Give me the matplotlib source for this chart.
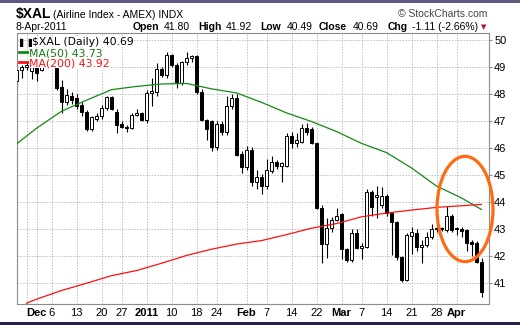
import matplotlib
matplotlib.use("Agg")
import matplotlib.pyplot as plt
from matplotlib.patches import Rectangle, Ellipse
import numpy as np

plt.rcParams["font.family"] = ["Liberation Sans", "DejaVu Sans"]

# trading-day index, 0 = 1-Dec-2010, 89 = 8-Apr-2011
day_idx = np.arange(-4, 90)
opens = [48.50, 48.90, 49.00, 48.85, 49.05, 48.90, 49.30, 49.35, 49.02, 48.28,
         47.73, 47.95, 47.85, 47.60, 47.35, 46.70, 47.10, 47.20, 47.50, 47.90,
         47.35, 46.90, 46.80, 46.75, 47.25, 47.30, 47.05, 48.05, 48.10, 48.95,
         48.72, 49.45, 49.10, 48.40, 49.20, 49.35, 49.40, 48.10, 47.05, 47.00,
         46.05, 46.90, 46.60, 47.55, 47.85, 45.80, 45.30, 45.95, 44.75, 44.95,
         44.60, 45.15, 45.50, 45.35, 45.35, 46.45, 46.20, 46.25, 46.75, 46.70,
         46.20, 43.80, 42.45, 43.05, 43.35, 43.55, 42.27, 41.85, 42.86, 42.30,
         42.35, 44.38, 44.20, 43.90, 44.23, 43.60, 43.27, 41.97, 41.12, 42.75,
         42.85, 42.34, 42.42, 42.72, 43.00, 43.00, 42.98, 43.50, 43.05, 43.00,
         42.98, 42.52, 42.50, 41.80]
highs = [48.98, 49.10, 49.20, 49.25, 49.20, 49.40, 49.50, 49.50, 49.20, 48.53,
         48.20, 48.10, 48.00, 47.70, 47.40, 47.20, 47.30, 47.60, 47.95, 47.95,
         47.45, 47.00, 46.85, 47.30, 47.45, 47.35, 48.15, 48.60, 49.15, 49.00,
         49.55, 49.50, 49.15, 49.25, 49.55, 49.45, 49.45, 48.20, 47.10, 47.05,
         47.00, 47.00, 47.95, 48.00, 48.00, 45.90, 46.10, 46.05, 45.20, 45.05,
         45.60, 45.70, 45.55, 45.50, 46.55, 46.60, 46.55, 46.90, 46.95, 46.80,
         46.25, 43.90, 43.40, 43.45, 43.80, 43.60, 42.30, 43.00, 43.00, 42.50,
         44.50, 44.45, 44.60, 44.55, 44.30, 43.65, 43.30, 42.00, 42.85, 43.10,
         43.00, 42.60, 42.90, 43.20, 43.35, 43.10, 43.85, 43.55, 43.10, 43.10,
         43.00, 42.60, 42.55, 41.92]
lows = [48.27, 48.60, 48.90, 48.55, 48.50, 48.85, 49.20, 49.00, 48.15, 47.30,
        47.60, 47.65, 47.45, 47.20, 46.65, 46.65, 47.00, 47.10, 47.40, 47.40,
        46.55, 46.75, 46.60, 46.70, 47.20, 47.00, 46.95, 47.55, 47.95, 48.65,
        48.60, 49.00, 48.25, 48.35, 49.10, 49.20, 48.00, 47.00, 46.30, 45.90,
        45.95, 46.50, 46.50, 47.45, 45.70, 45.10, 45.20, 44.60, 44.50, 44.30,
        44.50, 45.10, 45.25, 44.75, 45.30, 46.00, 46.05, 46.20, 46.50, 46.15,
        43.75, 41.75, 41.95, 42.90, 43.30, 41.90, 41.80, 41.80, 42.25, 41.90,
        42.30, 43.50, 43.40, 43.80, 43.50, 42.05, 41.85, 41.05, 41.08, 42.10,
        42.20, 41.75, 42.35, 42.65, 42.90, 42.95, 42.90, 42.90, 42.80, 42.70,
        42.20, 42.00, 41.75, 40.49]
closes = [48.90, 49.00, 49.10, 49.15, 48.80, 49.35, 49.40, 49.10, 48.22, 47.73,
          47.97, 47.79, 47.55, 47.35, 46.70, 47.15, 47.20, 47.50, 47.90, 47.45,
          46.85, 46.80, 46.75, 47.25, 47.30, 47.05, 48.05, 48.12, 48.95, 48.72,
          49.45, 49.10, 48.40, 49.20, 49.35, 49.40, 48.10, 47.05, 46.70, 46.05,
          46.90, 46.60, 47.55, 47.85, 45.75, 45.30, 45.95, 44.75, 44.95, 44.60,
          45.20, 45.50, 45.35, 45.45, 46.45, 46.20, 46.30, 46.75, 46.60, 46.20,
          43.80, 42.45, 43.05, 43.35, 43.50, 42.27, 41.85, 42.86, 42.30, 42.38,
          44.38, 43.83, 44.25, 44.23, 43.60, 43.27, 41.97, 41.12, 42.79, 42.90,
          42.34, 42.42, 42.72, 43.01, 43.05, 43.02, 43.50, 42.98, 43.00, 42.95,
          42.48, 42.47, 41.80, 40.69]

ma50_idx = [-4, 0, 5, 10, 15, 20, 25, 30, 35, 40, 45, 50, 55, 60, 65, 70, 75, 80, 85, 89]
ma50 = [46.16, 46.74, 47.37, 47.78, 48.17, 48.29, 48.38, 48.40, 48.20, 48.05,
        47.70, 47.31, 46.99, 46.62, 46.18, 45.84, 45.27, 44.60, 44.16, 43.73]
ma200_idx = [-2, 0, 5, 10, 15, 20, 25, 30, 35, 40, 45, 50, 55, 60, 65, 70, 75, 80, 85, 89]
ma200 = [40.26, 40.41, 40.73, 41.00, 41.28, 41.47, 41.74, 42.03, 42.26, 42.45,
         42.58, 42.80, 43.04, 43.21, 43.46, 43.60, 43.71, 43.81, 43.87, 43.92]

grid_idx = [-2, 0, 3, 8, 13, 17, 22, 27, 32, 36, 42, 46, 51, 56, 61, 65, 70, 75, 80, 84]
grid_labels = ["", "Dec", "6", "13", "20", "27", "2011", "10", "18", "24",
               "Feb", "7", "14", "22", "Mar", "7", "14", "21", "28", "Apr"]
bold_labels = {"Dec", "2011", "Feb", "Mar", "Apr"}
price_ticks = [41, 42, 43, 44, 45, 46, 47, 48, 49, 50]

W, H = 520, 325
fig = plt.figure(figsize=(W / 100, H / 100), dpi=100)
fig.patch.set_facecolor("white")


def px(x, y):
    return x / W, 1 - y / H


ax = fig.add_axes([16.7 / W, 1 - 304.3 / H, (489.3 - 16.7) / W, (304.3 - 32.7) / H])
ax.set_xlim(-3.96, 90.56)
ax.set_ylim(40.22, 50.28)

# grid
for g in grid_idx:
    ax.axvline(g, color="#bdbdbd", lw=0.7, ls=(0, (1.5, 1.5)), zorder=0)
for p in price_ticks:
    ax.axhline(p, color="#bdbdbd", lw=0.7, ls=(0, (1.5, 1.5)), zorder=0)

# candles
o = np.array(opens); c = np.array(closes)
ax.vlines(day_idx, lows, highs, color="black", lw=0.8, zorder=2)
up = c >= o
body = np.maximum(np.abs(c - o), 0.03)
ax.bar(day_idx, body, bottom=np.minimum(o, c), width=0.72,
       color=np.where(up, "white", "black"), edgecolor="black", linewidth=0.7, zorder=3)

# moving averages
ax.plot(ma50_idx, ma50, color="#138a13", lw=0.9, zorder=4)
ax.plot(ma200_idx, ma200, color="#ff1010", lw=0.9, zorder=4)

# orange annotation ring
ring = Ellipse((85.7, 43.75), width=11.2, height=3.9, fill=False,
               edgecolor="#ff6a13", lw=2.3, zorder=5, clip_on=False)
ax.add_patch(ring)

for s in ax.spines.values():
    s.set_color("#8c8c8c")
    s.set_linewidth(0.8)

ax.yaxis.tick_right()
ax.set_yticks(price_ticks)
ax.set_yticklabels([str(p) for p in price_ticks])
ax.tick_params(axis="y", length=2, pad=1.5, labelsize=8, color="#8c8c8c")
ax.set_xticks(grid_idx)
ax.set_xticklabels(grid_labels)
ax.tick_params(axis="x", length=0, pad=3, labelsize=8)
for lab in ax.get_xticklabels():
    if lab.get_text() in bold_labels:
        lab.set_fontweight("bold")

# legend inside the plot
leg_font = ["DejaVu Sans"]
fig.text(*px(19, 45), "\u258c\u2590", fontsize=6, color="black", va="baseline",
         family=leg_font)
fig.text(*px(32, 45), "$XAL (Daily) 40.69", fontsize=7.8, va="baseline", family=leg_font,
         bbox=dict(fc="white", ec="none", pad=0.3))
fig.add_artist(plt.Line2D([19 / W, 28 / W], [1 - 52 / H] * 2, color="#138a13", lw=2))
fig.text(*px(29, 56), "MA(50) 43.73", fontsize=7.8, va="baseline", color="#137a13",
         family=leg_font, bbox=dict(fc="white", ec="none", pad=0.3))
fig.add_artist(plt.Line2D([19 / W, 28 / W], [1 - 62 / H] * 2, color="#ff1010", lw=2))
fig.text(*px(29, 66), "MA(200) 43.92", fontsize=7.8, va="baseline", color="#ff1010",
         family=leg_font, bbox=dict(fc="white", ec="none", pad=0.3))

# header
fig.text(*px(16, 18), "$XAL", fontsize=10, fontweight="bold", va="baseline")
fig.text(*px(53, 17.5), "(Airline Index - AMEX) INDX", fontsize=7.5, va="baseline")
fig.text(*px(16, 29.5), "8-Apr-2011", fontsize=7.5, va="baseline")
fig.text(*px(398, 17), "\u00a9 StockCharts.com", fontsize=7.5, va="baseline", color="#444444")

quote = [(133, "Open", True), (164, "41.80", False), (198, "High", True),
         (226, "41.92", False), (260, "Low", True), (287, "40.49", False),
         (319, "Close", True), (353, "40.69", False), (388, "Chg", True),
         (412, "-1.11 (-2.66%)", False)]
for x, t, b in quote:
    fig.text(*px(x, 29.5), t, fontsize=7.5, va="baseline",
             fontweight="bold" if b else "normal")
fig.text(*px(481, 29.5), "\u25bc", fontsize=5, va="baseline", color="#b0103a",
         family=["DejaVu Sans"])

# border bars
fig.add_artist(Rectangle((0, 1 - 2.5 / H), 1, 2.5 / H, transform=fig.transFigure,
                         color="#5a5a80", lw=0))
fig.add_artist(Rectangle((0, 0), 1, 3 / H, transform=fig.transFigure,
                         color="#22224a", lw=0))

fig.savefig("out.png", dpi=100)
